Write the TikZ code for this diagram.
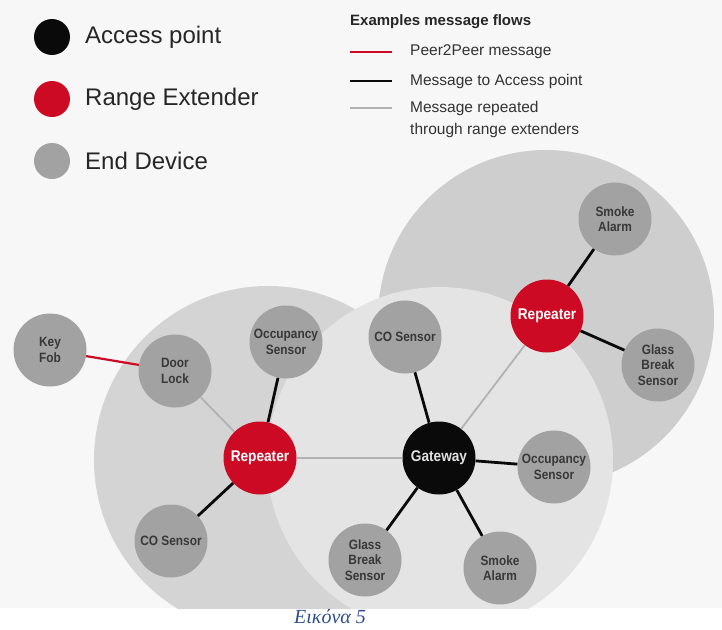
\documentclass[tikz,border=0pt]{standalone}
\usepackage{fontspec}
\setmainfont{Liberation Sans}
\newfontfamily\nodefont{Liberation Sans}[FakeStretch=0.88]
\newfontfamily\capfont{Liberation Serif}
\usepackage{tikz}
\definecolor{apblack}{HTML}{0A0A0A}
\definecolor{rered}{HTML}{CC0A23}
\definecolor{devgray}{HTML}{A2A2A2}
\definecolor{inkd}{HTML}{383838}
\definecolor{paper}{HTML}{F7F7F7}
\definecolor{zoneL}{HTML}{D4D4D4}
\definecolor{zoneR}{HTML}{CECECE}
\definecolor{zoneC}{HTML}{E4E4E4}
\definecolor{linegray}{HTML}{B2B2B2}
\definecolor{capblue}{HTML}{2E4F8F}
\tikzset{
  dev/.style={circle, fill=devgray, minimum size=73pt, inner sep=0pt, align=center,
              text=inkd, font=\nodefont\bfseries\fontsize{13.5}{15.5}\selectfont},
  rep/.style={dev, fill=rered, text=white, font=\nodefont\bfseries\fontsize{15.5}{18}\selectfont},
  gw/.style={rep, fill=apblack, text=white!88!black},
  legdot/.style={circle, minimum size=36pt, inner sep=0pt},
  legtxt/.style={anchor=west, inner sep=0pt, text=black!85, font=\fontsize{24}{28}\selectfont},
  flowtxt/.style={anchor=west, inner sep=0pt, align=left, text=black!80, font=\fontsize{15.5}{22}\selectfont},
  fp2p/.style={line width=2.2pt, draw=rered},
  fap/.style={line width=2.8pt, draw=apblack},
  frep/.style={line width=1.8pt, draw=linegray},
}
\begin{document}
\begin{tikzpicture}[x=1pt, y=-1pt]
  \useasboundingbox (0,0) rectangle (722,629);
  \fill[white] (0,0) rectangle (722,629);
  \fill[paper] (0,0) rectangle (722,608);

  % coverage zones
  \begin{scope}
    \clip (0,0) rectangle (722,608);
    \fill[zoneL] (268,460) circle (174);
    \fill[zoneR] (546,318) circle (168);
    \fill[zoneC] (440,460) circle (173);
  \end{scope}

  % legend
  \node[legdot, fill=apblack] (legAP) at (52,37) {};
  \node[legdot, fill=rered] (legRE) at (52,99) {};
  \node[legdot, fill=devgray] (legED) at (52,161) {};
  \node[legtxt] (txtAP) at (85,37) {Access point};
  \node[legtxt] (txtRE) at (85,99) {Range Extender};
  \node[legtxt] (txtED) at (85,161) {End Device};

  \node[flowtxt, font=\bfseries\fontsize{15}{18}\selectfont, text=black!85] (flowhead) at (350,22) {Examples message flows};
  \coordinate (p2pA) at (350,52);  \coordinate (p2pB) at (392,52);
  \coordinate (apA) at (350,81);   \coordinate (apB) at (392,81);
  \coordinate (repA) at (350,108); \coordinate (repB) at (392,108);
  \draw[fp2p] (p2pA) -- (p2pB);
  \draw[fap, line width=2.4pt] (apA) -- (apB);
  \draw[frep] (repA) -- (repB);
  \node[flowtxt] (txtp2p) at (410,52) {Peer2Peer message};
  \node[flowtxt] (txtap) at (410,81) {Message to Access point};
  \node[flowtxt] (txtrep) at (410,119) {Message repeated\\through range extenders};

  % devices
  \node[dev] (keyfob) at (50,350) {Key\\Fob};
  \node[dev] (doorlock) at (175,371) {Door\\Lock};
  \node[dev] (occL) at (286,342) {Occupancy\\Sensor};
  \node[rep] (repL) at (260,458) {Repeater};
  \node[dev] (coL) at (171,541) {CO Sensor};
  \node[gw] (gateway) at (439,458) {Gateway};
  \node[dev] (coC) at (405,337) {CO Sensor};
  \node[dev] (occR) at (554,467) {Occupancy\\Sensor};
  \node[dev] (glassB) at (365,560) {Glass\\Break\\Sensor};
  \node[dev] (smokeB) at (500,568) {Smoke\\Alarm};
  \node[rep] (repR) at (547,316) {Repeater};
  \node[dev] (smokeT) at (615,219) {Smoke\\Alarm};
  \node[dev] (glassR) at (658,365) {Glass\\Break\\Sensor};

  % message flows
  \draw[fp2p] (keyfob) -- (doorlock);
  \draw[frep] (doorlock) -- (repL);
  \draw[fap] (occL) -- (repL);
  \draw[fap] (coL) -- (repL);
  \draw[frep] (repL) -- (gateway);
  \draw[fap] (coC) -- (gateway);
  \draw[fap] (gateway) -- (occR);
  \draw[fap] (gateway) -- (glassB);
  \draw[fap] (gateway) -- (smokeB);
  \draw[frep] (gateway) -- (repR);
  \draw[fap] (repR) -- (smokeT);
  \draw[fap] (repR) -- (glassR);

  \node[anchor=base west, inner sep=0pt, text=capblue, font=\capfont\itshape\fontsize{20}{24}\selectfont] (caption) at (294,623) {Εικόνα 5};
\end{tikzpicture}
\end{document}
